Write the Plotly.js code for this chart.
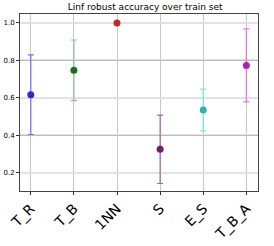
<!DOCTYPE html>
<html><head><meta charset="utf-8">
<script src="https://cdn.plot.ly/plotly-3.0.1.min.js"></script>
<style>html,body{margin:0;padding:0;background:#fff}#c{width:274px;height:246px}</style>
</head><body><div id="c"></div>
<script>
const categories = ["T_R","T_B","1NN","S","E_S","T_B_A"];
const means = [0.617, 0.747, 1.0, 0.325, 0.535, 0.773];
const errors = [0.213, 0.162, 0, 0.183, 0.112, 0.195];
const markerColors = ["#2a2ad6","#1f6e1f","#c62828","#6e1f6e","#26b4b4","#b020b0"];
const errorColors = ["#7070ff","#8cc48c","#e08080","#a860a8","#70e8e8","#e870e8"];
const yTicks = [0.2,0.4,0.6,0.8,1.0];

const traces = categories.map((c,i)=>({
  type:'scatter', mode:'markers', x:[c], y:[means[i]],
  marker:{color:markerColors[i], size:7},
  error_y:{type:'data', array:[errors[i]], visible:errors[i]>0, color:errorColors[i], thickness:1.2, width:3},
  showlegend:false, cliponaxis:false
}));
traces.push({type:'scatter', x:[categories[0]], y:[means[0]], yaxis:'y2', mode:'none', showlegend:false, hoverinfo:'skip'});

Plotly.newPlot('c', traces, {
  width:274, height:246,
  margin:{l:20, r:16, t:14, b:55},
  paper_bgcolor:'#fff', plot_bgcolor:'#fff',
  title:{text:'Linf robust accuracy over train set', font:{family:'DejaVu Sans', size:9, color:'#000'}, x:0.53, xanchor:'center', y:0.985, yanchor:'top'},
  xaxis:{type:'category', range:[-0.25,5.27], tickangle:-45, tickfont:{family:'DejaVu Sans', size:14, color:'#000'},
    showgrid:true, gridcolor:'#c8c8c8', gridwidth:1, ticks:'outside', ticklen:3, tickcolor:'#333',
    showline:true, linecolor:'#444', linewidth:1, mirror:true, zeroline:false, automargin:false},
  yaxis:{range:[0.102,1.048], tickvals:yTicks, ticktext:yTicks.map(v=>v.toFixed(1)),
    tickfont:{family:'DejaVu Sans', size:7, color:'#000'}, showgrid:true, gridcolor:'#e2e2e2', gridwidth:2,
    ticks:'outside', ticklen:3, tickcolor:'#333', showline:true, linecolor:'#444', linewidth:1, mirror:true, zeroline:false, automargin:false},
  yaxis2:{overlaying:'y', range:[0.102,1.048], tickvals:[0.4,0.8], showticklabels:false, showgrid:true, gridcolor:'#bcbcbc', gridwidth:1, zeroline:false, showline:false, ticks:''}
}, {staticPlot:true, displayModeBar:false});
</script></body></html>
